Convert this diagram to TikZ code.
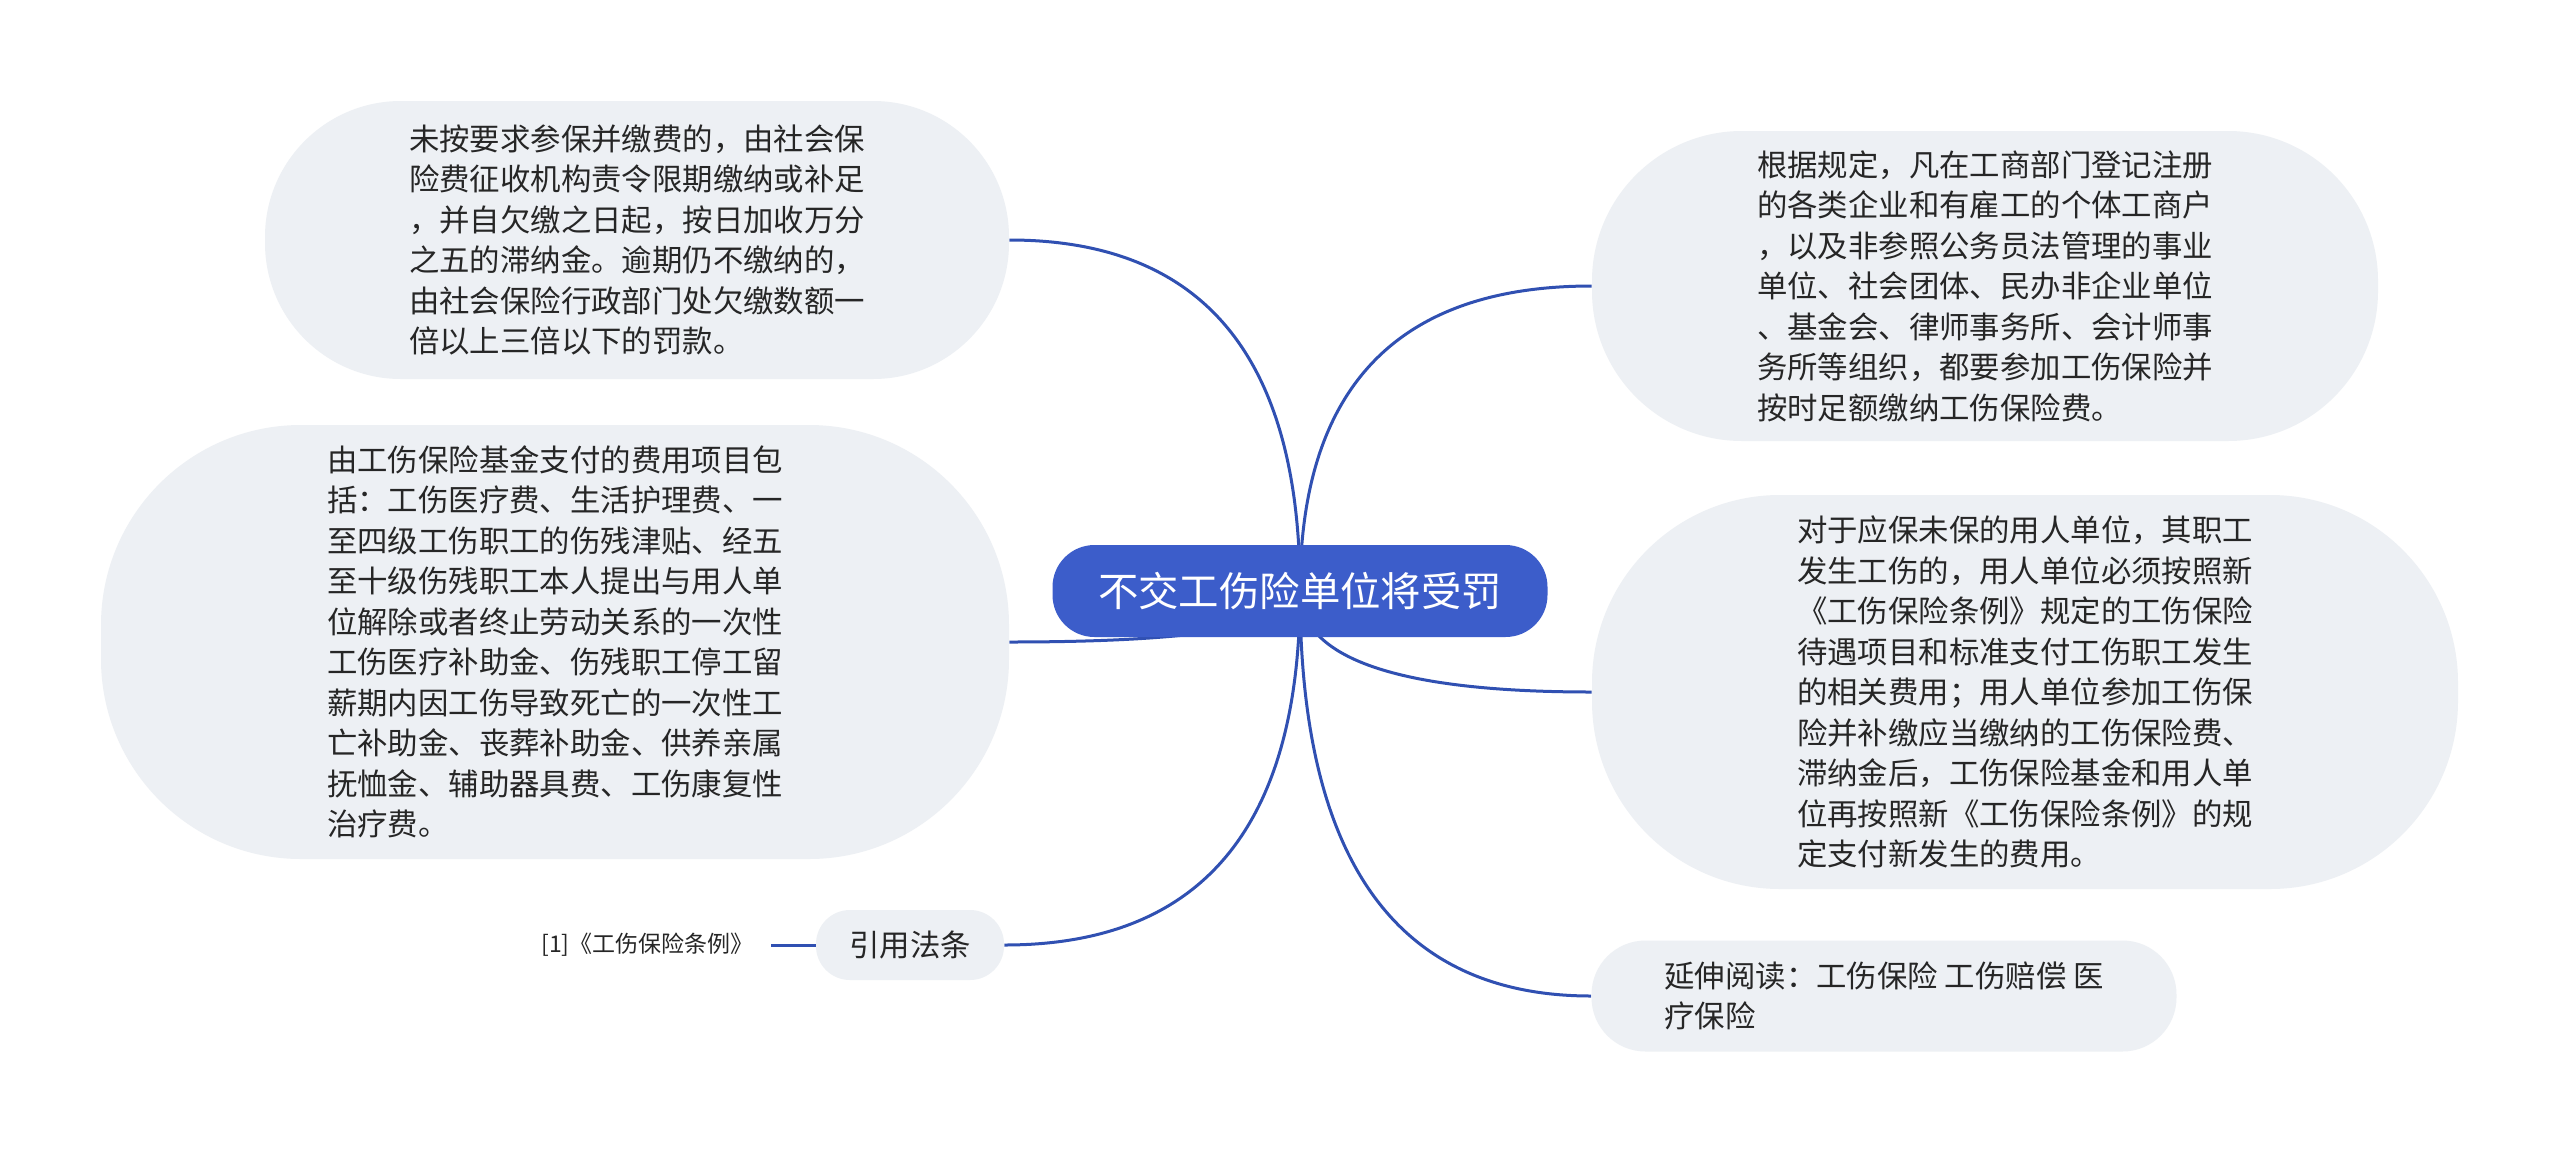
\documentclass[tikz,border=0pt]{standalone}
\usepackage{fontspec}
\setmainfont{Noto Sans CJK SC}
\usetikzlibrary{calc,backgrounds}
\definecolor{rootblue}{HTML}{3C5DCA}
\definecolor{linkblue}{HTML}{3050B2}
\definecolor{bubblefill}{HTML}{EDF0F4}
\definecolor{ink}{HTML}{262626}
\newcommand\mmlink[2]{%
  \coordinate (k#1) at (root.center |- #1.#2);
  \draw[conn] (root.center) .. controls ($(root.center)!0.6667!(k#1)$) and ($(#1.#2)!0.6667!(k#1)$) .. (#1.#2);}
\begin{document}
\begin{tikzpicture}[x=0.5pt,y=-0.5pt,
  bubblebox/.style={fill=bubblefill, text=ink, align=left, inner sep=0pt,
    font=\fontsize{15.2}{20.25}\selectfont},
  conn/.style={draw=linkblue, line width=1.5pt},
]
\useasboundingbox (0,0) rectangle (2560,1152);

% root
\node[fill=rootblue, text=white, rounded corners=21pt, minimum width=247.5pt,
  minimum height=46pt, inner sep=0pt, font=\fontsize{20.2}{24}\selectfont]
  (root) at (1300,591) {不交工伤险单位将受罚};

% left children
\node[bubblebox, minimum width=372pt, minimum height=139pt, rounded corners=68pt]
  (tl) at (637,240) {未按要求参保并缴费的，由社会保\\险费征收机构责令限期缴纳或补足\\，并自欠缴之日起，按日加收万分\\之五的滞纳金。逾期仍不缴纳的，\\由社会保险行政部门处欠缴数额一\\倍以上三倍以下的罚款。};

\node[bubblebox, minimum width=454pt, minimum height=217pt, rounded corners=100pt]
  (ml) at (555,642) {由工伤保险基金支付的费用项目包\\括：工伤医疗费、生活护理费、一\\至四级工伤职工的伤残津贴、经五\\至十级伤残职工本人提出与用人单\\位解除或者终止劳动关系的一次性\\工伤医疗补助金、伤残职工停工留\\薪期内因工伤导致死亡的一次性工\\亡补助金、丧葬补助金、供养亲属\\抚恤金、辅助器具费、工伤康复性\\治疗费。};

\node[bubblebox, minimum width=94pt, minimum height=35pt, rounded corners=17pt]
  (yy) at (910,945) {引用法条};

\node[text=ink, anchor=east, inner xsep=8.5pt, inner ysep=0pt,
  font=\fontsize{11.5}{14}\selectfont] (ref) at (771,945) {[1]《工伤保险条例》};

% right children
\node[bubblebox, minimum width=393pt, minimum height=155pt, rounded corners=75pt]
  (tr) at (1985,286) {根据规定，凡在工商部门登记注册\\的各类企业和有雇工的个体工商户\\，以及非参照公务员法管理的事业\\单位、社会团体、民办非企业单位\\、基金会、律师事务所、会计师事\\务所等组织，都要参加工伤保险并\\按时足额缴纳工伤保险费。};

\node[bubblebox, minimum width=433pt, minimum height=197pt, rounded corners=94pt]
  (mr) at (2025,692) {对于应保未保的用人单位，其职工\\发生工伤的，用人单位必须按照新\\《工伤保险条例》规定的工伤保险\\待遇项目和标准支付工伤职工发生\\的相关费用；用人单位参加工伤保\\险并补缴应当缴纳的工伤保险费、\\滞纳金后，工伤保险基金和用人单\\位再按照新《工伤保险条例》的规\\定支付新发生的费用。};

\node[bubblebox, minimum width=292.5pt, minimum height=55.5pt, rounded corners=27pt]
  (yx) at (1884,996) {延伸阅读：工伤保险 工伤赔偿 医\\疗保险};

% connectors, behind the nodes
\begin{pgfonlayer}{background}
\fill[white] (0,0) rectangle (2560,1152);
\mmlink{tl}{east}
\mmlink{ml}{east}
\mmlink{yy}{east}
\mmlink{tr}{west}
\mmlink{mr}{west}
\mmlink{yx}{west}
\draw[conn] (ref.east) -- (yy.west);
\end{pgfonlayer}
\end{tikzpicture}
\end{document}
